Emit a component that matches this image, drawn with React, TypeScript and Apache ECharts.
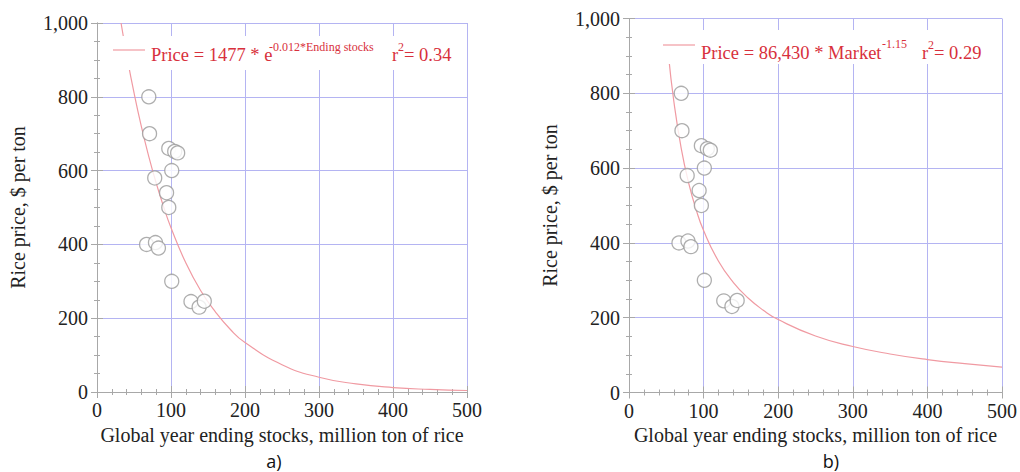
import React, { useEffect, useRef } from "react";
import * as echarts from "echarts";

// Observations (global year ending stocks, million ton; rice price, $ per ton)
const stocks = [70, 71, 97, 105, 109, 101, 78, 94, 97, 67, 79, 83, 101, 127, 138, 145];
const prices = [800, 700, 660, 652, 648, 600, 580, 540, 500, 400, 405, 390, 300, 245, 230, 246];

// Fitted curve a)
const expX = [32.5, 40, 50, 60, 70, 80, 90, 100, 120, 140, 160, 180, 200, 250, 300, 350, 400, 450, 500];
const expY = [1000, 914, 811, 719, 638, 566, 502, 445, 350, 275, 217, 170, 134, 74, 40, 22, 12, 7, 4];

// Fitted curve b)
const powX = [53, 60, 70, 80, 90, 100, 120, 140, 160, 180, 200, 250, 300, 350, 400, 450, 500];
const powY = [900, 780, 653, 560, 489, 433, 351, 294, 252, 220, 195, 151, 123, 103, 88, 77, 68];

const xTicks = { min: 0, max: 500, interval: 100 };
const yTicks = { min: 0, max: 1000, interval: 200 };
const xName = "Global year ending stocks, million ton of rice";
const yName = "Rice price, $ per ton";

const SERIF = "'Liberation Serif', 'Times New Roman', serif";
const FRAME = "#a8a8a8";
const GRIDC = "#b4b4f2";
const RED = "#d8303c";

export default function App() {
  const ref = useRef<HTMLDivElement>(null);
  useEffect(() => {
    const chart = echarts.init(ref.current!, undefined, { renderer: "svg" });
    const grids = [
      { left: 97, top: 23, width: 370, height: 369 },
      { left: 629, top: 18.5, width: 375, height: 374 },
    ];
    const xAxes: any[] = [];
    const yAxes: any[] = [];
    grids.forEach((_, gi) => {
      const tickCommon = {
        axisLine: { show: true, lineStyle: { color: FRAME, width: 1 } },
        axisTick: { show: true, inside: true, length: 6, lineStyle: { color: FRAME } },
      };
      xAxes.push({
        type: "value", gridIndex: gi, position: "bottom", ...xTicks,
        ...tickCommon,
        minorTick: { show: true, splitNumber: 5, length: 3, lineStyle: { color: FRAME } },
        splitLine: { show: true, lineStyle: { color: GRIDC, width: 1 } },
        axisLabel: { margin: 8, fontFamily: SERIF, fontSize: 20, color: "#222" },
        name: xName, nameLocation: "middle", nameGap: 30,
        nameTextStyle: { fontFamily: SERIF, fontSize: 20, color: "#222" },
      });
      xAxes.push({
        type: "value", gridIndex: gi, position: "top", ...xTicks,
        ...tickCommon,
        minorTick: { show: true, splitNumber: 5, length: 3, lineStyle: { color: FRAME } },
        splitLine: { show: false },
        axisLabel: { show: false },
      });
      yAxes.push({
        type: "value", gridIndex: gi, position: "left", ...yTicks,
        ...tickCommon,
        minorTick: { show: true, splitNumber: 4, length: 3, lineStyle: { color: FRAME } },
        splitLine: { show: true, lineStyle: { color: GRIDC, width: 1 } },
        axisLabel: {
          margin: 9, fontFamily: SERIF, fontSize: 20, color: "#222",
          formatter: (v: number) => v.toLocaleString("en-US"),
        },
        name: yName, nameLocation: "middle", nameGap: 69,
        nameTextStyle: { fontFamily: SERIF, fontSize: 20, color: "#222" },
      });
      yAxes.push({
        type: "value", gridIndex: gi, position: "right", ...yTicks,
        ...tickCommon,
        minorTick: { show: true, splitNumber: 4, length: 3, lineStyle: { color: FRAME } },
        splitLine: { show: false },
        axisLabel: { show: false },
      });
    });

    const pts = stocks.map((s, i) => [s, prices[i]]);
    const curve = (xs: number[], ys: number[]) => xs.map((x, i) => [x, ys[i]]);
    const scatter = (gi: number) => ({
      type: "scatter", xAxisIndex: gi * 2, yAxisIndex: gi * 2, data: pts,
      symbol: "circle", symbolSize: 14, z: 5,
      itemStyle: { color: "#ffffff", borderColor: "#9a9a9a", borderWidth: 1.3 },
    });
    const line = (gi: number, d: number[][]) => ({
      type: "line", xAxisIndex: gi * 2, yAxisIndex: gi * 2, data: d,
      showSymbol: false, smooth: true, z: 4,
      lineStyle: { color: "#f09aa2", width: 1.2 },
    });

    const txt = (x: number, y: number, text: string, size: number, extra: any = {}) => ({
      type: "text", x, y, z: 10,
      style: { text, fontFamily: SERIF, fontSize: size, fill: RED, align: "left", verticalAlign: "middle", ...extra },
    });
    const seg = (x1: number, x2: number, y: number) => ({
      type: "line", z: 10, shape: { x1, y1: y, x2, y2: y },
      style: { stroke: "#f09aa2", lineWidth: 1.2 },
    });

    chart.setOption({
      animation: false,
      backgroundColor: "#ffffff",
      grid: grids,
      xAxis: xAxes,
      yAxis: yAxes,
      series: [
        line(0, curve(expX, expY)),
        scatter(0),
        line(1, curve(powX, powY)),
        scatter(1),
      ],
      graphic: [
        // legend a)
        { type: "rect", shape: { x: 108, y: 36, width: 352, height: 34 }, style: { fill: "#ffffff" }, z: 9 },
        seg(113, 145, 50),
        txt(151, 55, "Price = 1477 * e", 18.5),
        txt(269, 47, "-0.012*Ending stocks", 12),
        txt(392, 55, "r", 18.5),
        txt(398, 47, "2", 12),
        txt(404, 55, "= 0.34", 18.5),
        // legend b)
        { type: "rect", shape: { x: 658, y: 30, width: 340, height: 34 }, style: { fill: "#ffffff" }, z: 9 },
        seg(663, 695, 45),
        txt(701, 53, "Price = 86,430 * Market", 18.5),
        txt(882, 44, "-1.15", 12),
        txt(922, 53, "r", 18.5),
        txt(928, 45, "2", 12),
        txt(934, 53, "= 0.29", 18.5),
        // panel labels
        {
          type: "text", x: 274, y: 461, z: 10,
          style: { text: "a)", fontFamily: "'Open Sans', 'Liberation Sans', sans-serif", fontSize: 18, fill: "#111", align: "center", verticalAlign: "middle" },
        },
        {
          type: "text", x: 831, y: 461, z: 10,
          style: { text: "b)", fontFamily: "'Open Sans', 'Liberation Sans', sans-serif", fontSize: 18, fill: "#111", align: "center", verticalAlign: "middle" },
        },
      ],
    });
    return () => chart.dispose();
  }, []);
  return (
    <div
      ref={ref}
      style={{ position: "fixed", left: 0, top: 0, width: 1020, height: 472, background: "#fff" }}
    />
  );
}
